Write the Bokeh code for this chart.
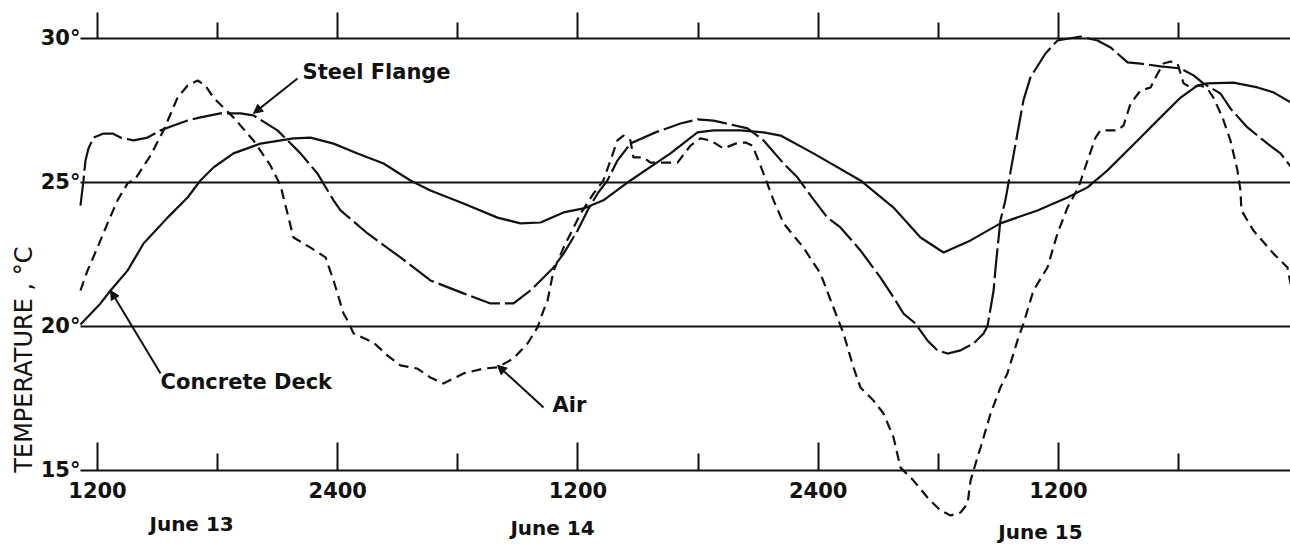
from math import pi
from bokeh.plotting import figure
from bokeh.models import Range1d, LinearAxis, FixedTicker, Arrow, NormalHead
from bokeh.core.properties import value
from bokeh.embed import file_html
from bokeh.resources import INLINE

# ---- data (hours after 1200 June 13, temperature in deg C) ----
hours_major = [0, 12, 24, 36, 48]
hours_minor = [6, 18, 30, 42, 54]
hour_labels = ["1200", "2400", "1200", "2400", "1200"]
temp_ticks = [15, 20, 25, 30]
temp_labels = ["15°", "20°", "25°", "30°"]
days = ["June 13", "June 14", "June 15"]
day_hours = [4.70, 22.73, 47.10]

concrete_h = [-0.85, 0.15, 0.65, 1.50, 2.30, 3.50, 4.50, 5.14, 5.79, 6.79, 8.14, 9.79, 10.64,
              11.79, 12.99, 14.29, 15.63, 16.63, 18.28, 19.98, 21.13, 22.13, 23.28, 24.28, 25.27,
              26.62, 28.62, 29.97, 30.77, 32.12, 33.27, 34.12, 35.76, 38.11, 39.76, 41.11, 42.26,
              43.61, 45.10, 46.95, 48.45, 49.45, 50.45, 51.95, 53.10, 54.10, 54.95, 55.44, 56.74,
              57.94, 58.74, 59.59]
concrete_t = [20.07, 20.80, 21.25, 21.94, 22.88, 23.78, 24.48, 25.07, 25.52, 26.01, 26.35, 26.53, 26.56,
              26.35, 26.01, 25.66, 25.07, 24.72, 24.27, 23.78, 23.58, 23.61, 23.96, 24.10, 24.38,
              25.07, 26.01, 26.74, 26.81, 26.81, 26.74, 26.63, 26.01, 25.07, 24.13, 23.09, 22.57,
              22.99, 23.58, 24.03, 24.48, 24.83, 25.42, 26.46, 27.26, 27.95, 28.37, 28.44, 28.47,
              28.30, 28.13, 27.78]

steel_h = [-0.85, -0.70, -0.60, -0.45, -0.20, 0.30, 0.75, 1.15, 1.80, 2.50, 3.15, 3.80, 4.50, 5.14,
           6.14, 7.14, 7.79, 8.99, 10.14, 10.99, 11.79, 12.14, 13.49, 15.13, 16.63, 18.28, 19.63,
           20.78, 21.63, 22.78, 23.28, 23.98, 24.48, 24.98, 25.47, 25.97, 26.62, 27.87, 29.12, 29.97,
           30.77, 32.47, 33.27, 34.27, 34.97, 35.61, 36.46, 37.11, 38.11, 39.11, 39.76, 40.26, 40.86,
           41.46, 41.96, 42.46, 43.11, 43.76, 44.26, 44.46, 44.76, 44.86, 44.96, 45.10, 45.35, 45.50,
           45.95, 46.25, 46.60, 47.35, 47.95, 49.10, 49.95, 50.60, 51.45, 52.10, 53.10, 54.10, 54.75,
           55.24, 56.09, 56.59, 57.44, 58.44, 59.09, 59.59]
steel_t = [24.20, 25.07, 25.76, 26.18, 26.56, 26.70, 26.70, 26.56, 26.46, 26.56, 26.81, 26.98, 27.15, 27.26,
           27.40, 27.40, 27.33, 26.81, 26.01, 25.31, 24.38, 24.03, 23.23, 22.40, 21.60, 21.15, 20.80,
           20.80, 21.25, 22.05, 22.53, 23.33, 24.03, 24.62, 25.07, 25.76, 26.35, 26.74, 27.05, 27.19,
           27.15, 26.88, 26.46, 25.66, 25.17, 24.55, 23.78, 23.44, 22.64, 21.70, 21.01, 20.45, 20.10,
           19.51, 19.17, 19.06, 19.17, 19.41, 19.76, 20.03, 21.25, 22.05, 22.74, 23.68, 24.38, 24.97,
           26.70, 27.85, 28.65, 29.48, 29.93, 30.07, 29.93, 29.69, 29.17, 29.13, 29.03, 28.96, 28.72,
           28.44, 28.09, 27.57, 26.91, 26.35, 26.01, 25.56]

air_h = [-0.85, -0.50, 0.00, 0.50, 1.00, 1.50, 1.90, 2.65, 3.30, 4.00, 4.50, 5.00, 5.39, 5.79, 6.79,
         7.79, 8.64, 9.14, 9.39, 9.79, 10.64, 11.39, 11.79, 12.29, 12.49, 12.79, 13.79, 14.49, 15.13,
         15.98, 16.63, 17.28, 18.28, 19.28, 19.98, 20.78, 21.48, 21.98, 22.28, 22.48, 22.78, 23.28,
         24.13, 24.78, 25.27, 25.62, 25.97, 26.27, 26.62, 26.77, 27.27, 27.62, 28.37, 28.97, 29.62,
         30.12, 30.62, 31.27, 31.87, 32.37, 32.72, 33.27, 33.77, 34.27, 35.26, 36.11, 36.76, 37.26,
         37.76, 38.11, 38.76, 39.26, 39.76, 40.11, 40.76, 41.46, 42.11, 42.61, 43.11, 43.46, 43.61,
         43.86, 44.11, 44.61, 45.10, 45.45, 45.95, 46.25, 46.75, 47.45, 47.95, 48.45, 49.00, 49.45,
         49.85, 50.10, 50.95, 51.25, 51.60, 52.10, 52.60, 52.95, 53.25, 53.60, 53.95, 54.10, 54.25,
         54.60, 55.10, 55.44, 55.74, 56.19, 56.59, 56.94, 57.09, 57.14, 57.74, 58.74, 59.44, 59.59]
air_t = [21.25, 21.94, 22.74, 23.58, 24.38, 24.97, 25.14, 25.94, 26.81, 27.95, 28.37, 28.54, 28.37, 27.95, 27.26,
         26.46, 25.59, 24.90, 24.20, 23.09, 22.74, 22.40, 21.60, 20.45, 20.21, 19.76, 19.44, 18.99, 18.65,
         18.54, 18.23, 18.02, 18.37, 18.54, 18.58, 18.89, 19.41, 19.97, 20.56, 20.90, 21.94, 22.74,
         23.92, 24.62, 25.07, 25.76, 26.46, 26.63, 26.46, 25.87, 25.87, 25.69, 25.69, 25.69, 26.28,
         26.53, 26.46, 26.18, 26.35, 26.39, 26.28, 25.31, 24.38, 23.58, 22.74, 21.84, 20.66, 19.76,
         18.58, 17.88, 17.43, 16.98, 16.15, 15.10, 14.65, 14.06, 13.61, 13.44, 13.54, 13.85, 14.65,
         15.24, 15.80, 16.98, 17.88, 18.37, 19.51, 20.10, 21.25, 22.05, 23.23, 24.13, 24.83, 25.76,
         26.56, 26.81, 26.81, 26.98, 27.74, 28.19, 28.30, 28.78, 29.13, 29.20, 29.13, 28.78, 28.44,
         28.30, 28.37, 28.26, 27.95, 27.26, 26.46, 25.42, 24.72, 24.03, 23.33, 22.53, 22.05, 21.49]

# ---- layout constants ----
FONT_NAME = "DejaVu Sans"
FONT = value(FONT_NAME)
INK = "#111111"
X_LEFT, X_RIGHT = -0.85, 59.59

p = figure(width=1290, height=546,
           x_range=Range1d(-4.845, 59.59), y_range=Range1d(12.361, 31.319),
           x_axis_location=None, y_axis_location=None,
           toolbar_location=None, output_backend="svg",
           min_border=0, outline_line_color=None,
           background_fill_color="white", border_fill_color="white")
p.xgrid.grid_line_color = None
p.ygrid.grid_line_color = None

# horizontal reference lines at each temperature tick
p.segment(x0=X_LEFT, x1=X_RIGHT, y0=temp_ticks, y1=temp_ticks, line_color=INK, line_width=2)

xb = LinearAxis(fixed_location=15, ticker=FixedTicker(ticks=hours_major, minor_ticks=hours_minor))
xb.major_label_overrides = dict(zip(hours_major, hour_labels))
xb.axis_line_color = None
xb.major_tick_in = 28
xb.major_tick_out = 0
xb.minor_tick_in = 17
xb.minor_tick_out = 0
xb.major_tick_line_width = 2
xb.minor_tick_line_width = 2
xb.major_tick_line_color = INK
xb.minor_tick_line_color = INK
xb.major_label_standoff = 12
xb.major_label_text_font = FONT_NAME
xb.major_label_text_font_style = "bold"
xb.major_label_text_font_size = "21px"
xb.major_label_text_color = INK
p.add_layout(xb, "below")

xt = LinearAxis(fixed_location=30, ticker=FixedTicker(ticks=hours_major, minor_ticks=hours_minor))
xt.axis_line_color = None
xt.major_tick_out = 26
xt.major_tick_in = 0
xt.minor_tick_out = 16
xt.minor_tick_in = 0
xt.major_tick_line_width = 2
xt.minor_tick_line_width = 2
xt.major_tick_line_color = INK
xt.minor_tick_line_color = INK
xt.major_label_text_color = None
p.add_layout(xt, "above")

yl = LinearAxis(fixed_location=X_LEFT, ticker=FixedTicker(ticks=temp_ticks))
yl.major_label_overrides = dict(zip(temp_ticks, temp_labels))
yl.axis_line_color = None
yl.major_tick_line_color = None
yl.minor_tick_line_color = None
yl.major_tick_out = 0
yl.major_tick_in = 0
yl.major_label_standoff = 0
yl.major_label_text_font = FONT_NAME
yl.major_label_text_font_style = "bold"
yl.major_label_text_font_size = "21px"
yl.major_label_text_color = INK
p.add_layout(yl, "left")

# curves
p.line(concrete_h, concrete_t, line_color=INK, line_width=2.2)
p.line(steel_h, steel_t, line_color=INK, line_width=2.2, line_dash="30 5")
p.line(air_h, air_t, line_color=INK, line_width=2.2, line_dash="10 6")

# annotations
def label(xs, ys, texts, size="21px", align="left", angle=0.0, style="bold"):
    p.text(x=xs, y=ys, text=texts, text_font=FONT, text_font_size=size, text_font_style=style,
           text_align=align, text_baseline="middle", text_color=INK, angle=angle)

label([10.24], [28.82], ["Steel Flange"])
label([3.15], [18.09], ["Concrete Deck"])
label([22.73], [17.26], ["Air"])
label(day_hours, [13.125, 13.02, 12.85], days, size="20px", align="center")
label([-3.65], [18.85], ["TEMPERATURE , °C"], size="24px", align="center", angle=pi / 2, style="normal")

for xs, ys, xe, ye in [(9.99, 28.61, 7.79, 27.40), (3.15, 18.37, 0.65, 21.25), (22.28, 17.19, 19.98, 18.65)]:
    p.add_layout(Arrow(end=NormalHead(size=9, fill_color=INK, line_color=INK, line_width=1),
                       x_start=xs, y_start=ys, x_end=xe, y_end=ye,
                       line_color=INK, line_width=2))

with open("out.html", "w", encoding="utf-8") as f:
    f.write(file_html(p, INLINE))
